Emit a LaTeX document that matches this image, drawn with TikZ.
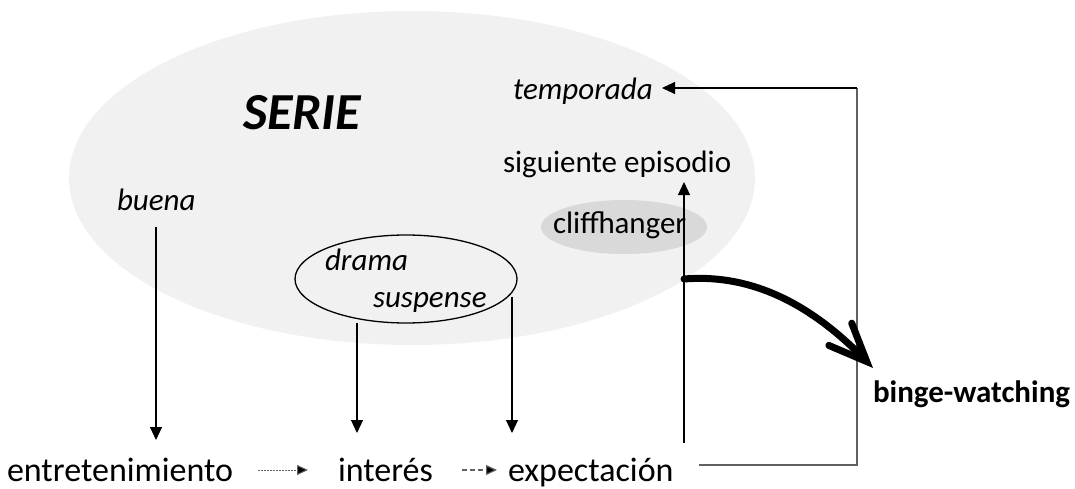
\documentclass[tikz,border=0pt]{standalone}
\usepackage{fontspec}
\setmainfont{Carlito}
\usetikzlibrary{arrows.meta,shapes.geometric}
\definecolor{serieg}{HTML}{F1F1F1}
\definecolor{cliffg}{HTML}{D9D9D9}
\definecolor{lineg}{HTML}{606060}
\tikzset{
  txt/.style={anchor=base west, inner sep=0pt, outer sep=0pt},
  bigtxt/.style={txt, font=\fontsize{34}{34}\selectfont},
  midtxt/.style={txt, font=\fontsize{31}{31}\selectfont},
  itxt/.style={txt, font=\fontsize{31}{31}\selectfont\itshape},
  conn/.style={line width=1.1pt, -{Triangle[length=13pt,width=12pt]}},
  rconn/.style={line width=1.4pt, draw=lineg},
}
\begin{document}
\begin{tikzpicture}[x=1pt,y=-1pt]
\useasboundingbox (0,0) rectangle (1075,489);
% big series ellipse
\node[ellipse, fill=serieg, minimum width=686pt, minimum height=334pt, inner sep=0pt] (serie) at (412,178) {};
\node[txt, font=\fontsize{52}{52}\selectfont\bfseries\itshape] (sertxt) at (243,130) {SERIE};
\node[itxt] (buena) at (117,210) {buena};
\node[itxt] (temp) at (513,100) {temporada};
\node[midtxt] (sig) at (503,172) {siguiente episodio};
\node[ellipse, fill=cliffg, minimum width=166pt, minimum height=54pt, inner sep=0pt] (cliffel) at (624,227) {};
\node[midtxt] (cliff) at (553,233) {cliffhanger};
\node[ellipse, draw, line width=1.3pt, minimum width=222pt, minimum height=88pt, inner sep=0pt] (dramael) at (406,279) {};
\node[itxt] (drama) at (325,270) {drama};
\node[itxt] (susp) at (373,307) {suspense};
% bottom chain
\node[bigtxt] (ent) at (7,481) {entretenimiento};
\node[bigtxt] (int) at (338,481) {interés};
\node[bigtxt] (exp) at (508,481) {expectación};
\node[txt, font=\fontsize{31}{31}\selectfont\bfseries] (binge) at (873,402) {binge-watching};
% coordinates for connector ends
\coordinate (bueA) at (156,227);
\coordinate (bueB) at (156,440);
\coordinate (drA) at (357,323);
\coordinate (drB) at (357,433);
\coordinate (suA) at (512,297);
\coordinate (suB) at (512,433);
\coordinate (exUp) at (684,443);
\coordinate (sigIn) at (684,182);
\coordinate (exR) at (699,465);
\coordinate (rCorner) at (857,88);
\coordinate (tempIn) at (662,88);
\coordinate (entR) at (258,470);
\coordinate (intL) at (308,470);
\coordinate (intR) at (462,470);
\coordinate (expL) at (497,470);
\coordinate (bwA) at (684,279);
\coordinate (bwB) at (873,368);
% connectors
\draw[conn] (bueA) -- (bueB);
\draw[conn] (drA) -- (drB);
\draw[conn] (suA) -- (suB);
\draw[conn] (exUp) -- (sigIn);
\draw[rconn] (exR) -| (rCorner);
\draw[line width=1.1pt, -{Triangle[length=13pt,width=12pt]}] (rCorner) -- (tempIn);
\draw[line width=1pt, draw=lineg, dash pattern=on 1.5pt off 1.5pt, -{Triangle[length=11pt,width=10pt, fill=black]}] (entR) -- (intL);
\draw[line width=1.2pt, draw=lineg, dash pattern=on 5pt off 3pt, -{Triangle[length=11pt,width=10pt, fill=black]}] (intR) -- (expL);
\draw[line width=7pt, line cap=round, -{Straight Barb[length=38pt,width=32pt,line cap=round]}] (bwA) .. controls (745,274) and (805,298) .. (bwB);
\end{tikzpicture}
\end{document}
